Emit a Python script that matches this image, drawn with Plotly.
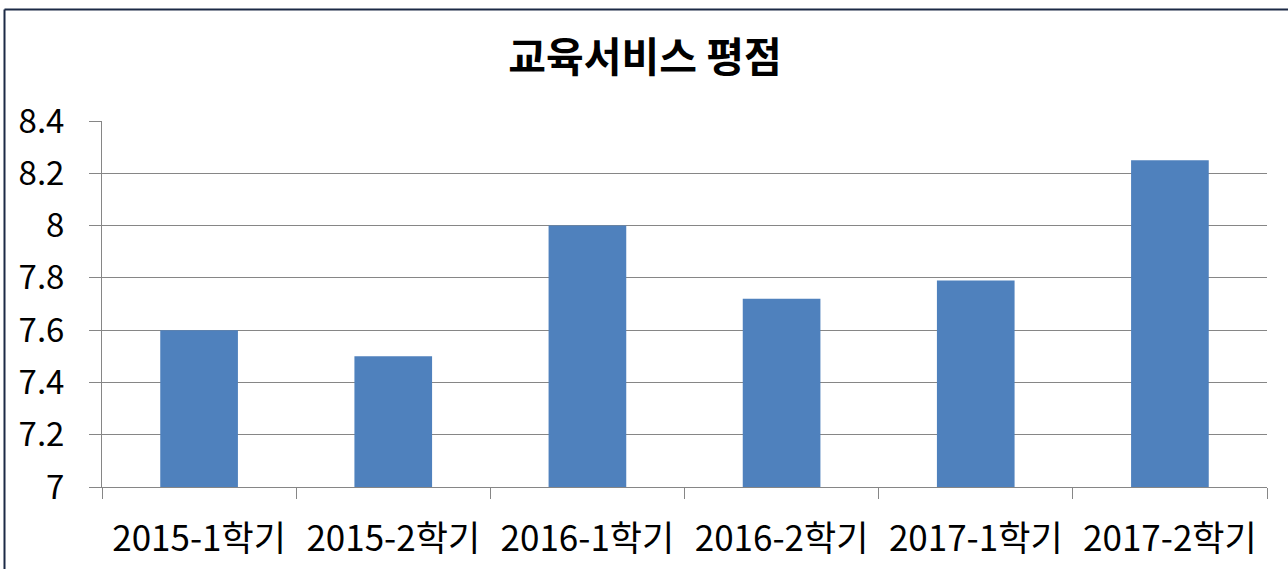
import plotly.graph_objects as go

categories = ["2015-1학기", "2015-2학기", "2016-1학기", "2016-2학기", "2017-1학기", "2017-2학기"]
values = [7.6, 7.5, 8.0, 7.72, 7.79, 8.25]
y_ticks = [7, 7.2, 7.4, 7.6, 7.8, 8, 8.2, 8.4]
y_tick_labels = ["7", "7.2", "7.4", "7.6", "7.8", "8", "8.2", "8.4"]
title_text = "교육서비스 평점"

W, H = 1288, 569
L, R, T, B = 102, 21, 121, 82
pw, ph = W - L - R, H - T - B

def px_x(x):
    return (x - L) / pw

def px_y(y):
    return 1 - (y - T) / ph

FONT = "Noto Sans CJK KR, Malgun Gothic, sans-serif"

fig = go.Figure(go.Bar(x=categories, y=values, marker=dict(color="#4F81BD", line=dict(width=0)), width=0.4))

fig.update_layout(
    width=W, height=H, autosize=False,
    margin=dict(l=L, r=R, t=T, b=B),
    paper_bgcolor="white", plot_bgcolor="white",
    font=dict(family=FONT, color="#000000"),
    title=dict(text="<b>" + title_text + "</b>", x=645 / W, xanchor="center",
               y=1 - 58 / H, yanchor="middle", font=dict(size=41, family=FONT, color="#000000"),
               automargin=False),
    showlegend=False,
    bargap=0.6,
)
fig.update_xaxes(
    type="category", tickson="boundaries", ticks="outside", ticklen=11, tickcolor="#868686",
    showline=True, linecolor="#868686", linewidth=1, showgrid=False, automargin=False,
    tickfont=dict(size=35, family=FONT, color="#000000"), ticklabelstandoff=21,
)
fig.update_yaxes(
    range=[7, 8.4], tickvals=y_ticks, ticktext=y_tick_labels, ticks="outside", ticklen=12,
    tickcolor="#868686", showline=True, linecolor="#868686", linewidth=1, automargin=False,
    showgrid=True, gridcolor="#868686", gridwidth=1, zeroline=False,
    tickfont=dict(size=33, family=FONT, color="#000000"), ticklabelstandoff=18,
)

# image frame (left and top edges)
fig.add_shape(type="line", xref="paper", yref="paper", x0=px_x(4.5), x1=px_x(4.5), y0=px_y(H + 5), y1=px_y(9.5),
              line=dict(color="#1c2a46", width=2))
fig.add_shape(type="line", xref="paper", yref="paper", x0=px_x(4.5), x1=px_x(W + 5), y0=px_y(9.5), y1=px_y(9.5),
              line=dict(color="#1c2a46", width=2))

fig.write_html("out.html")
